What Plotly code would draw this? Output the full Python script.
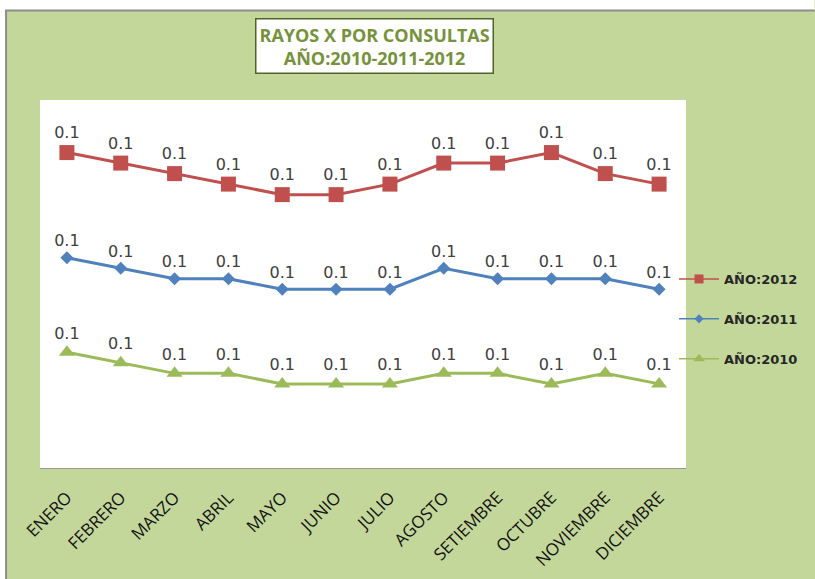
import plotly.graph_objects as go

months = ["ENERO", "FEBRERO", "MARZO", "ABRIL", "MAYO", "JUNIO", "JULIO",
          "AGOSTO", "SETIEMBRE", "OCTUBRE", "NOVIEMBRE", "DICIEMBRE"]
y2012 = [0.148, 0.146, 0.144, 0.142, 0.140, 0.140, 0.142, 0.146, 0.146, 0.148, 0.144, 0.142]
y2011 = [0.128, 0.126, 0.124, 0.124, 0.122, 0.122, 0.122, 0.126, 0.124, 0.124, 0.124, 0.122]
y2010 = [0.110, 0.108, 0.106, 0.106, 0.104, 0.104, 0.104, 0.106, 0.106, 0.104, 0.106, 0.104]

W, H = 815, 579
ML, MR, MT, MB = 40, 127, 100, 111
PW, PH = W - ML - MR, H - MT - MB

def px(x):
    return (x - ML) / PW

def py(y):
    return (H - MB - y) / PH

series = [
    ("AÑO:2012", y2012, "#c0504d", "square", 15, 9),
    ("AÑO:2011", y2011, "#4f81bd", "diamond", 10, 7),
    ("AÑO:2010", y2010, "#9bbb59", "triangle-up", 14, 10),
]

fig = go.Figure()
for i, (name, ys, col, sym, sz, lsz) in enumerate(series):
    fig.add_trace(go.Scatter(
        x=months, y=ys, name=name, mode="lines+markers+text",
        line=dict(color=col, width=3),
        marker=dict(symbol=sym, size=sz, color=col),
        texttemplate="%{y:.1f}", textposition="top center",
        textfont=dict(family="DejaVu Sans", size=16, color="#404040"),
        showlegend=False,
    ))
    # legend entry (thinner line / smaller marker, as in the original legend)
    fig.add_trace(go.Scatter(
        x=[None], y=[None], name=name, mode="lines+markers",
        line=dict(color=col, width=1.5),
        marker=dict(symbol=sym, size=lsz, color=col),
        legendgroup=str(i), showlegend=True,
    ))

green = "#c4d79b"
fig.update_layout(
    width=W, height=H,
    margin=dict(l=ML, r=MR, t=MT, b=MB),
    paper_bgcolor=green, plot_bgcolor="white",
    showlegend=True,
    legend=dict(x=px(676), y=py(264), xanchor="left", yanchor="top",
                bgcolor="rgba(0,0,0,0)", tracegroupgap=20,
                font=dict(family="DejaVu Sans", size=13, color="#262626", weight="bold"),
                itemwidth=40),
    xaxis=dict(showgrid=False, showline=True, linecolor="#9a9a9a", linewidth=1,
               ticks="", tickangle=-45, range=[-0.5, 11.5], ticklabelstandoff=12,
               automargin=False,
               tickfont=dict(family="Open Sans", size=17, color="#111111")),
    yaxis=dict(range=[0.088, 0.158], visible=False, showgrid=False, automargin=False),
    shapes=[
        dict(type="rect", xref="paper", yref="paper", x0=px(-2), x1=px(W + 2), y0=py(10), y1=py(-2),
             fillcolor="white", line=dict(width=0), layer="above"),
        dict(type="rect", xref="paper", yref="paper", x0=px(-2), x1=px(5), y0=py(H + 2), y1=py(-2),
             fillcolor="white", line=dict(width=0), layer="above"),
        dict(type="line", xref="paper", yref="paper", x0=px(5), x1=px(W + 2), y0=py(10.5), y1=py(10.5),
             line=dict(color="#8c8c8c", width=2), layer="above"),
        dict(type="line", xref="paper", yref="paper", x0=px(6), x1=px(6), y0=py(10), y1=py(H + 2),
             line=dict(color="#8c8c8c", width=2), layer="above"),
    ],
    annotations=[
        dict(text="<b>RAYOS X POR CONSULTAS<br>AÑO:2010-2011-2012</b>",
             xref="paper", yref="paper", x=px(376), y=py(46),
             xanchor="center", yanchor="middle", showarrow=False,
             font=dict(family="Open Sans", size=18, color="#76923c"),
             bgcolor="white", bordercolor="#4f6228", borderwidth=1.5, borderpad=3,
             align="center"),
    ],
)

fig.write_html("out.html", config={"displayModeBar": False},
               post_script=("document.body.style.margin='0';document.body.style.overflow='hidden';"
                            "document.documentElement.style.overflow='hidden';"
                            "document.body.style.background='" + green + "';"))
